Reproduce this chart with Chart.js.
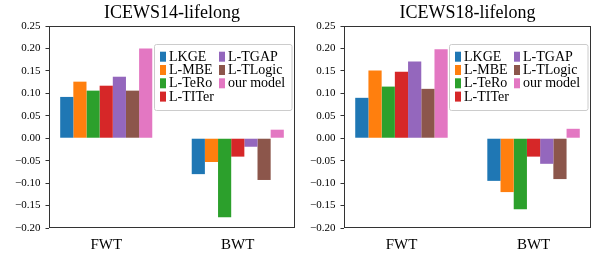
<!DOCTYPE html>
<html>
<head>
<meta charset="utf-8">
<script src="https://cdn.jsdelivr.net/npm/chart.js@4.4.0/dist/chart.umd.min.js"></script>
<style>
  html, body { margin: 0; padding: 0; background: #fff; }
  #wrap { display: flex; width: 592px; height: 253px; }
  canvas { display: block; }
</style>
</head>
<body>
<div id="wrap">
  <canvas id="left" width="296" height="253"></canvas>
  <canvas id="right" width="296" height="253"></canvas>
</div>
<script>
// data
const groups = ["FWT", "BWT"];
const models = ["LKGE", "L-MBE", "L-TeRo", "L-TITer", "L-TGAP", "L-TLogic", "our model"];
const colors = ["#1f77b4", "#ff7f0e", "#2ca02c", "#d62728", "#9467bd", "#8c564b", "#e377c2"];
const yTicks = [-0.20, -0.15, -0.10, -0.05, 0.00, 0.05, 0.10, 0.15, 0.20, 0.25];

const icews14FWT = [0.092, 0.126, 0.106, 0.117, 0.137, 0.106, 0.200];
const icews14BWT = [-0.080, -0.053, -0.176, -0.041, -0.019, -0.093, 0.019];
const icews18FWT = [0.090, 0.151, 0.115, 0.148, 0.171, 0.110, 0.198];
const icews18BWT = [-0.095, -0.120, -0.158, -0.041, -0.057, -0.091, 0.021];

const FONT = "'Liberation Serif', 'Times New Roman', serif";

// title centred over the plot area, like matplotlib does
const titlePlugin = {
  id: "axTitle",
  afterDraw(chart, args, opts) {
    const { ctx, chartArea } = chart;
    ctx.save();
    ctx.font = `18px ${FONT}`;
    ctx.fillStyle = "#000";
    ctx.textAlign = "center";
    ctx.textBaseline = "middle";
    ctx.fillText(opts.text, (chartArea.left + chartArea.right) / 2, 13);
    ctx.restore();
  }
};

// full box around the axes
const framePlugin = {
  id: "frame",
  afterDatasetsDraw(chart) {
    const { ctx, chartArea: a } = chart;
    ctx.save();
    ctx.strokeStyle = "#333";
    ctx.lineWidth = 1;
    ctx.strokeRect(a.left + 0.5, a.top + 0.5, a.right - a.left - 1, a.bottom - a.top - 1);
    ctx.restore();
  }
};

// two column legend, column-major (4 rows then 3)
const legendPlugin = {
  id: "colLegend",
  afterDraw(chart) {
    const { ctx, chartArea: a } = chart;
    const bx = a.left + 105, by = a.top + 18;
    const bw = a.right - 3.5 - bx, bh = 66;
    ctx.save();
    ctx.fillStyle = "rgba(255,255,255,0.8)";
    ctx.strokeStyle = "#cccccc";
    ctx.lineWidth = 1;
    ctx.beginPath();
    ctx.roundRect(bx + 0.5, by + 0.5, bw, bh, 2);
    ctx.fill();
    ctx.stroke();
    ctx.font = `14px ${FONT}`;
    ctx.textBaseline = "middle";
    ctx.textAlign = "left";
    chart.data.datasets.forEach((ds, i) => {
      const col = Math.floor(i / 4), row = i % 4;
      const mx = bx + 6 + col * 59;
      const my = by + 12.7 + row * 13.3;
      ctx.fillStyle = ds.backgroundColor;
      ctx.fillRect(mx, my - 5, 6, 10);
      ctx.fillStyle = "#000";
      ctx.fillText(ds.label, mx + 9, my + 0.5);
    });
    ctx.restore();
  }
};

function fmt(v) {
  if (Math.abs(v) < 1e-9) return "0.00";
  return (v < 0 ? "\u2212" : "") + Math.abs(v).toFixed(2);
}

function makeChart(id, title, fwt, bwt, axisWidth) {
  const datasets = models.map((m, i) => ({
    label: m,
    data: [{ x: 0, y: fwt[i] }, { x: 1, y: bwt[i] }],
    backgroundColor: colors[i],
    borderWidth: 0,
    categoryPercentage: 0.7,
    barPercentage: 1.0
  }));

  return new Chart(document.getElementById(id), {
    type: "bar",
    data: { datasets },
    options: {
      responsive: false,
      animation: false,
      devicePixelRatio: 1,
      layout: { padding: { top: 26, right: 1, left: 0, bottom: 0 } },
      plugins: {
        legend: { display: false },
        tooltip: { enabled: false },
        axTitle: { text: title }
      },
      scales: {
        x: {
          type: "linear",
          offset: false,
          min: -0.435,
          max: 1.435,
          afterBuildTicks(scale) {
            scale.ticks = groups.map((g, i) => ({ value: i }));
          },
          afterFit(scale) { scale.height = 25; },
          grid: { display: false, drawTicks: false },
          border: { display: false },
          ticks: {
            padding: 8,
            color: "#000",
            font: { family: FONT, size: 15 },
            callback: v => groups[v] ?? ""
          }
        },
        y: {
          min: -0.2,
          max: 0.25,
          afterBuildTicks(scale) {
            scale.ticks = yTicks.map(v => ({ value: v }));
          },
          afterFit(scale) { scale.width = axisWidth; },
          grid: {
            drawOnChartArea: false,
            drawTicks: true,
            tickLength: 3.5,
            color: "#333"
          },
          border: { display: false },
          ticks: {
            padding: 5,
            color: "#000",
            font: { family: FONT, size: 11 },
            callback: v => fmt(v)
          }
        }
      }
    },
    plugins: [titlePlugin, framePlugin, legendPlugin]
  });
}

makeChart("left", "ICEWS14-lifelong", icews14FWT, icews14BWT, 49);
makeChart("right", "ICEWS18-lifelong", icews18FWT, icews18BWT, 48);
</script>
</body>
</html>
